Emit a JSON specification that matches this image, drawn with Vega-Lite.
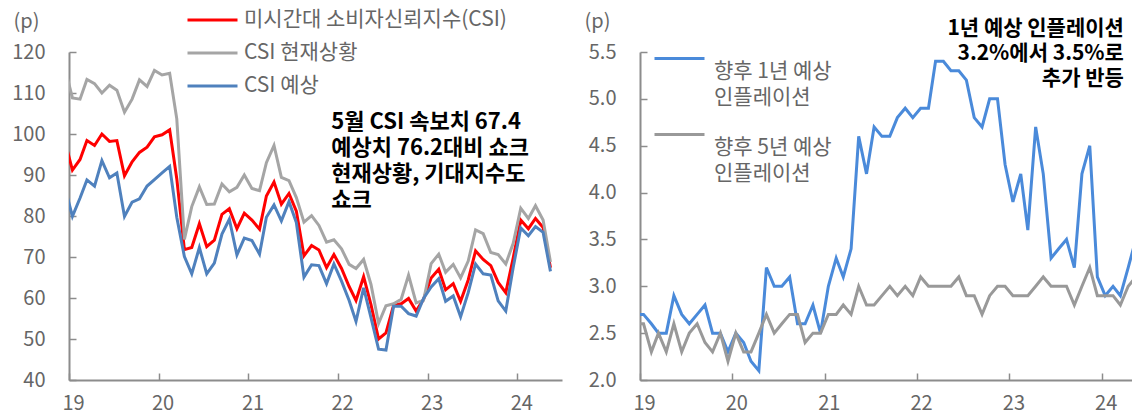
{
  "$schema": "https://vega.github.io/schema/vega-lite/v6.json",
  "background": "white",
  "padding": {"left": 11, "top": 9, "right": 0, "bottom": 0},
  "bounds": "flush",
  "spacing": 78,
  "resolve": {"scale": {"color": "independent"}, "legend": {"color": "independent"}},
  "config": {
    "font": "Noto Sans CJK KR",
    "view": {"stroke": null},
    "axis": {
      "grid": false,
      "domainColor": "#8C8C8C",
      "domainWidth": 2,
      "tickColor": "#8C8C8C",
      "tickWidth": 1.5,
      "tickSize": -7,
      "labelColor": "#666666",
      "labelFontSize": 20,
      "labelFont": "Noto Sans CJK KR",
      "titleColor": "#666666",
      "titleFontSize": 20,
      "titleFontWeight": "normal"
    }
  },
  "hconcat": [
    {
      "width": 493,
      "height": 328,
      "data": {"values": [
        {"d": "2018-12-15", "csi": 98.3, "cur": 116.1, "exp": 87.0},
        {"d": "2019-01-15", "csi": 91.2, "cur": 108.8, "exp": 79.9},
        {"d": "2019-02-15", "csi": 93.8, "cur": 108.5, "exp": 84.4},
        {"d": "2019-03-15", "csi": 98.4, "cur": 113.3, "exp": 88.8},
        {"d": "2019-04-15", "csi": 97.2, "cur": 112.3, "exp": 87.3},
        {"d": "2019-05-15", "csi": 100.0, "cur": 110.0, "exp": 93.5},
        {"d": "2019-06-15", "csi": 98.2, "cur": 111.9, "exp": 89.3},
        {"d": "2019-07-15", "csi": 98.4, "cur": 110.7, "exp": 90.5},
        {"d": "2019-08-15", "csi": 89.8, "cur": 105.3, "exp": 79.9},
        {"d": "2019-09-15", "csi": 93.2, "cur": 108.5, "exp": 83.4},
        {"d": "2019-10-15", "csi": 95.5, "cur": 113.2, "exp": 84.2},
        {"d": "2019-11-15", "csi": 96.8, "cur": 111.6, "exp": 87.3},
        {"d": "2019-12-15", "csi": 99.3, "cur": 115.5, "exp": 88.9},
        {"d": "2020-01-15", "csi": 99.8, "cur": 114.4, "exp": 90.5},
        {"d": "2020-02-15", "csi": 101.0, "cur": 114.8, "exp": 92.1},
        {"d": "2020-03-15", "csi": 89.1, "cur": 103.7, "exp": 79.7},
        {"d": "2020-04-15", "csi": 71.8, "cur": 74.3, "exp": 70.1},
        {"d": "2020-05-15", "csi": 72.3, "cur": 82.3, "exp": 65.9},
        {"d": "2020-06-15", "csi": 78.1, "cur": 87.1, "exp": 72.3},
        {"d": "2020-07-15", "csi": 72.5, "cur": 82.8, "exp": 65.9},
        {"d": "2020-08-15", "csi": 74.1, "cur": 82.9, "exp": 68.5},
        {"d": "2020-09-15", "csi": 80.4, "cur": 87.8, "exp": 75.6},
        {"d": "2020-10-15", "csi": 81.8, "cur": 85.9, "exp": 79.2},
        {"d": "2020-11-15", "csi": 76.9, "cur": 87.0, "exp": 70.5},
        {"d": "2020-12-15", "csi": 80.7, "cur": 90.0, "exp": 74.6},
        {"d": "2021-01-15", "csi": 79.0, "cur": 86.7, "exp": 74.0},
        {"d": "2021-02-15", "csi": 76.8, "cur": 86.2, "exp": 70.7},
        {"d": "2021-03-15", "csi": 84.9, "cur": 93.0, "exp": 79.7},
        {"d": "2021-04-15", "csi": 88.3, "cur": 97.2, "exp": 82.7},
        {"d": "2021-05-15", "csi": 82.9, "cur": 89.4, "exp": 78.8},
        {"d": "2021-06-15", "csi": 85.5, "cur": 88.6, "exp": 83.5},
        {"d": "2021-07-15", "csi": 81.2, "cur": 84.5, "exp": 78.4},
        {"d": "2021-08-15", "csi": 70.3, "cur": 78.5, "exp": 65.1},
        {"d": "2021-09-15", "csi": 72.8, "cur": 80.1, "exp": 68.1},
        {"d": "2021-10-15", "csi": 71.7, "cur": 77.7, "exp": 67.9},
        {"d": "2021-11-15", "csi": 67.4, "cur": 73.6, "exp": 63.5},
        {"d": "2021-12-15", "csi": 70.6, "cur": 74.2, "exp": 68.3},
        {"d": "2022-01-15", "csi": 67.2, "cur": 72.0, "exp": 64.1},
        {"d": "2022-02-15", "csi": 62.8, "cur": 68.2, "exp": 59.4},
        {"d": "2022-03-15", "csi": 59.4, "cur": 67.2, "exp": 54.3},
        {"d": "2022-04-15", "csi": 65.2, "cur": 69.4, "exp": 62.5},
        {"d": "2022-05-15", "csi": 58.4, "cur": 63.3, "exp": 55.2},
        {"d": "2022-06-15", "csi": 50.0, "cur": 53.8, "exp": 47.5},
        {"d": "2022-07-15", "csi": 51.5, "cur": 58.1, "exp": 47.3},
        {"d": "2022-08-15", "csi": 58.2, "cur": 58.6, "exp": 58.0},
        {"d": "2022-09-15", "csi": 58.6, "cur": 59.7, "exp": 58.0},
        {"d": "2022-10-15", "csi": 59.9, "cur": 65.6, "exp": 56.2},
        {"d": "2022-11-15", "csi": 56.8, "cur": 58.8, "exp": 55.6},
        {"d": "2022-12-15", "csi": 59.7, "cur": 59.4, "exp": 59.9},
        {"d": "2023-01-15", "csi": 64.9, "cur": 68.4, "exp": 62.7},
        {"d": "2023-02-15", "csi": 67.0, "cur": 70.7, "exp": 64.7},
        {"d": "2023-03-15", "csi": 62.0, "cur": 66.3, "exp": 59.2},
        {"d": "2023-04-15", "csi": 63.5, "cur": 68.2, "exp": 60.5},
        {"d": "2023-05-15", "csi": 59.2, "cur": 64.9, "exp": 55.4},
        {"d": "2023-06-15", "csi": 64.4, "cur": 69.0, "exp": 61.3},
        {"d": "2023-07-15", "csi": 71.5, "cur": 76.6, "exp": 68.3},
        {"d": "2023-08-15", "csi": 69.4, "cur": 75.7, "exp": 65.9},
        {"d": "2023-09-15", "csi": 67.9, "cur": 71.1, "exp": 65.6},
        {"d": "2023-10-15", "csi": 63.8, "cur": 70.6, "exp": 59.3},
        {"d": "2023-11-15", "csi": 61.3, "cur": 68.3, "exp": 56.8},
        {"d": "2023-12-15", "csi": 69.7, "cur": 73.3, "exp": 67.4},
        {"d": "2024-01-15", "csi": 79.0, "cur": 81.9, "exp": 77.1},
        {"d": "2024-02-15", "csi": 76.9, "cur": 79.4, "exp": 75.2},
        {"d": "2024-03-15", "csi": 79.4, "cur": 82.5, "exp": 77.4},
        {"d": "2024-04-15", "csi": 77.2, "cur": 79.0, "exp": 76.0},
        {"d": "2024-05-15", "csi": 67.4, "cur": 68.8, "exp": 66.5}
      ]},
      "layer": [
        {
          "transform": [{"fold": ["csi", "cur", "exp"], "as": ["s", "v"]}],
          "mark": {"type": "line", "strokeWidth": 3, "clip": true},
          "encoding": {
            "x": {
              "field": "d", "type": "temporal",
              "scale": {"domain": [{"year": 2019, "month": 1, "date": 1}, {"year": 2024, "month": 7, "date": 1}]},
              "axis": {
                "title": null, "format": "%y", "labelPadding": 20, "labelOffset": 4, "labelFlush": false,
                "values": [{"year": 2019, "month": 1, "date": 1}, {"year": 2020, "month": 1, "date": 1}, {"year": 2021, "month": 1, "date": 1}, {"year": 2022, "month": 1, "date": 1}, {"year": 2023, "month": 1, "date": 1}, {"year": 2024, "month": 1, "date": 1}]
              }
            },
            "y": {
              "field": "v", "type": "quantitative",
              "scale": {"domain": [40, 120], "nice": false, "zero": false},
              "axis": {
                "values": [40, 50, 60, 70, 80, 90, 100, 110, 120],
                "labelPadding": 31,
                "title": "(p)", "titleAngle": 0, "titleAlign": "left", "titleBaseline": "middle", "titleX": -56, "titleY": -31
              }
            },
            "color": {
              "field": "s", "type": "nominal",
              "scale": {"domain": ["csi", "cur", "exp"], "range": ["#FF0000", "#A5A5A5", "#4F81BD"]},
              "legend": {
                "orient": "none", "legendX": 117, "legendY": -43, "direction": "vertical", "title": null, "padding": 0,
                "symbolType": "stroke", "symbolSize": 2500, "symbolStrokeWidth": 3,
                "labelFontSize": 21, "labelColor": "#666666", "labelOffset": 5, "labelLimit": 500, "rowPadding": 12,
                "labelExpr": "datum.label == 'csi' ? '미시간대 소비자신뢰지수(CSI)' : datum.label == 'cur' ? 'CSI 현재상황' : 'CSI 예상'",
                "encode": {"symbols": {"update": {"y": {"value": 11}}}, "labels": {"update": {"y": {"value": 11}}}}
              }
            }
          }
        },
        {
          "data": {"values": [{}]},
          "mark": {"type": "text", "align": "left", "baseline": "middle", "fontSize": 22, "fontWeight": "bold", "color": "#000000", "lineHeight": 26,
            "text": ["5월 CSI 속보치 67.4", "예상치 76.2대비 쇼크", "현재상황, 기대지수도", "쇼크"]},
          "encoding": {
            "x": {"datum": {"year": 2021, "month": 12, "date": 4}, "type": "temporal"},
            "y": {"datum": 102.9, "type": "quantitative"}
          }
        }
      ]
    },
    {
      "width": 493,
      "height": 328,
      "data": {"values": [
        {"d": "2018-12-15", "y1": 2.7, "y5": 2.6},
        {"d": "2019-01-15", "y1": 2.7, "y5": 2.6},
        {"d": "2019-02-15", "y1": 2.6, "y5": 2.3},
        {"d": "2019-03-15", "y1": 2.5, "y5": 2.5},
        {"d": "2019-04-15", "y1": 2.5, "y5": 2.3},
        {"d": "2019-05-15", "y1": 2.9, "y5": 2.6},
        {"d": "2019-06-15", "y1": 2.7, "y5": 2.3},
        {"d": "2019-07-15", "y1": 2.6, "y5": 2.5},
        {"d": "2019-08-15", "y1": 2.7, "y5": 2.6},
        {"d": "2019-09-15", "y1": 2.8, "y5": 2.4},
        {"d": "2019-10-15", "y1": 2.5, "y5": 2.3},
        {"d": "2019-11-15", "y1": 2.5, "y5": 2.5},
        {"d": "2019-12-15", "y1": 2.3, "y5": 2.2},
        {"d": "2020-01-15", "y1": 2.5, "y5": 2.5},
        {"d": "2020-02-15", "y1": 2.4, "y5": 2.3},
        {"d": "2020-03-15", "y1": 2.2, "y5": 2.3},
        {"d": "2020-04-15", "y1": 2.1, "y5": 2.5},
        {"d": "2020-05-15", "y1": 3.2, "y5": 2.7},
        {"d": "2020-06-15", "y1": 3.0, "y5": 2.5},
        {"d": "2020-07-15", "y1": 3.0, "y5": 2.6},
        {"d": "2020-08-15", "y1": 3.1, "y5": 2.7},
        {"d": "2020-09-15", "y1": 2.6, "y5": 2.7},
        {"d": "2020-10-15", "y1": 2.6, "y5": 2.4},
        {"d": "2020-11-15", "y1": 2.8, "y5": 2.5},
        {"d": "2020-12-15", "y1": 2.5, "y5": 2.5},
        {"d": "2021-01-15", "y1": 3.0, "y5": 2.7},
        {"d": "2021-02-15", "y1": 3.3, "y5": 2.7},
        {"d": "2021-03-15", "y1": 3.1, "y5": 2.8},
        {"d": "2021-04-15", "y1": 3.4, "y5": 2.7},
        {"d": "2021-05-15", "y1": 4.6, "y5": 3.0},
        {"d": "2021-06-15", "y1": 4.2, "y5": 2.8},
        {"d": "2021-07-15", "y1": 4.7, "y5": 2.8},
        {"d": "2021-08-15", "y1": 4.6, "y5": 2.9},
        {"d": "2021-09-15", "y1": 4.6, "y5": 3.0},
        {"d": "2021-10-15", "y1": 4.8, "y5": 2.9},
        {"d": "2021-11-15", "y1": 4.9, "y5": 3.0},
        {"d": "2021-12-15", "y1": 4.8, "y5": 2.9},
        {"d": "2022-01-15", "y1": 4.9, "y5": 3.1},
        {"d": "2022-02-15", "y1": 4.9, "y5": 3.0},
        {"d": "2022-03-15", "y1": 5.4, "y5": 3.0},
        {"d": "2022-04-15", "y1": 5.4, "y5": 3.0},
        {"d": "2022-05-15", "y1": 5.3, "y5": 3.0},
        {"d": "2022-06-15", "y1": 5.3, "y5": 3.1},
        {"d": "2022-07-15", "y1": 5.2, "y5": 2.9},
        {"d": "2022-08-15", "y1": 4.8, "y5": 2.9},
        {"d": "2022-09-15", "y1": 4.7, "y5": 2.7},
        {"d": "2022-10-15", "y1": 5.0, "y5": 2.9},
        {"d": "2022-11-15", "y1": 5.0, "y5": 3.0},
        {"d": "2022-12-15", "y1": 4.3, "y5": 3.0},
        {"d": "2023-01-15", "y1": 3.9, "y5": 2.9},
        {"d": "2023-02-15", "y1": 4.2, "y5": 2.9},
        {"d": "2023-03-15", "y1": 3.6, "y5": 2.9},
        {"d": "2023-04-15", "y1": 4.7, "y5": 3.0},
        {"d": "2023-05-15", "y1": 4.2, "y5": 3.1},
        {"d": "2023-06-15", "y1": 3.3, "y5": 3.0},
        {"d": "2023-07-15", "y1": 3.4, "y5": 3.0},
        {"d": "2023-08-15", "y1": 3.5, "y5": 3.0},
        {"d": "2023-09-15", "y1": 3.2, "y5": 2.8},
        {"d": "2023-10-15", "y1": 4.2, "y5": 3.0},
        {"d": "2023-11-15", "y1": 4.5, "y5": 3.2},
        {"d": "2023-12-15", "y1": 3.1, "y5": 2.9},
        {"d": "2024-01-15", "y1": 2.9, "y5": 2.9},
        {"d": "2024-02-15", "y1": 3.0, "y5": 2.9},
        {"d": "2024-03-15", "y1": 2.9, "y5": 2.8},
        {"d": "2024-04-15", "y1": 3.2, "y5": 3.0},
        {"d": "2024-05-15", "y1": 3.5, "y5": 3.1}
      ]},
      "layer": [
        {
          "transform": [{"fold": ["y1", "y5"], "as": ["s", "v"]}],
          "mark": {"type": "line", "strokeWidth": 3, "clip": true},
          "encoding": {
            "x": {
              "field": "d", "type": "temporal",
              "scale": {"domain": [{"year": 2019, "month": 1, "date": 1}, {"year": 2024, "month": 5, "date": 4}]},
              "axis": {
                "title": null, "format": "%y", "labelPadding": 20, "labelOffset": 4, "labelFlush": false,
                "values": [{"year": 2019, "month": 1, "date": 1}, {"year": 2020, "month": 1, "date": 1}, {"year": 2021, "month": 1, "date": 1}, {"year": 2022, "month": 1, "date": 1}, {"year": 2023, "month": 1, "date": 1}, {"year": 2024, "month": 1, "date": 1}]
              }
            },
            "y": {
              "field": "v", "type": "quantitative",
              "scale": {"domain": [2.0, 5.5], "nice": false, "zero": false},
              "axis": {
                "values": [2.0, 2.5, 3.0, 3.5, 4.0, 4.5, 5.0, 5.5],
                "format": ".1f",
                "labelPadding": 31,
                "title": "(p)", "titleAngle": 0, "titleAlign": "left", "titleBaseline": "middle", "titleX": -56, "titleY": -31
              }
            },
            "color": {
              "field": "s", "type": "nominal",
              "scale": {"domain": ["y1", "y5"], "range": ["#4A8ADA", "#999999"]},
              "legend": {
                "orient": "none", "legendX": 13, "legendY": -20, "direction": "vertical", "title": null, "padding": 0,
                "symbolType": "stroke", "symbolSize": 2500, "symbolStrokeWidth": 3,
                "labelFontSize": 21, "labelColor": "#666666", "labelOffset": 8, "labelLimit": 500, "rowPadding": -6,
                "labelBaseline": "middle",
                "labelExpr": "datum.label == 'y1' ? ['향후 1년 예상', '인플레이션'] : ['향후 5년 예상', '인플레이션']",
                "encode": {"labels": {"update": {"dy": {"value": 13.5}, "lineHeight": {"value": 26}}}}
              }
            }
          }
        },
        {
          "data": {"values": [{}]},
          "mark": {"type": "text", "align": "right", "baseline": "middle", "fontSize": 21, "fontWeight": "bold", "color": "#000000", "lineHeight": 25,
            "text": ["1년 예상 인플레이션", "3.2%에서 3.5%로", "추가 반등"]},
          "encoding": {
            "x": {"datum": {"year": 2024, "month": 3, "date": 29}, "type": "temporal"},
            "y": {"datum": 5.75, "type": "quantitative"}
          }
        }
      ]
    }
  ]
}
